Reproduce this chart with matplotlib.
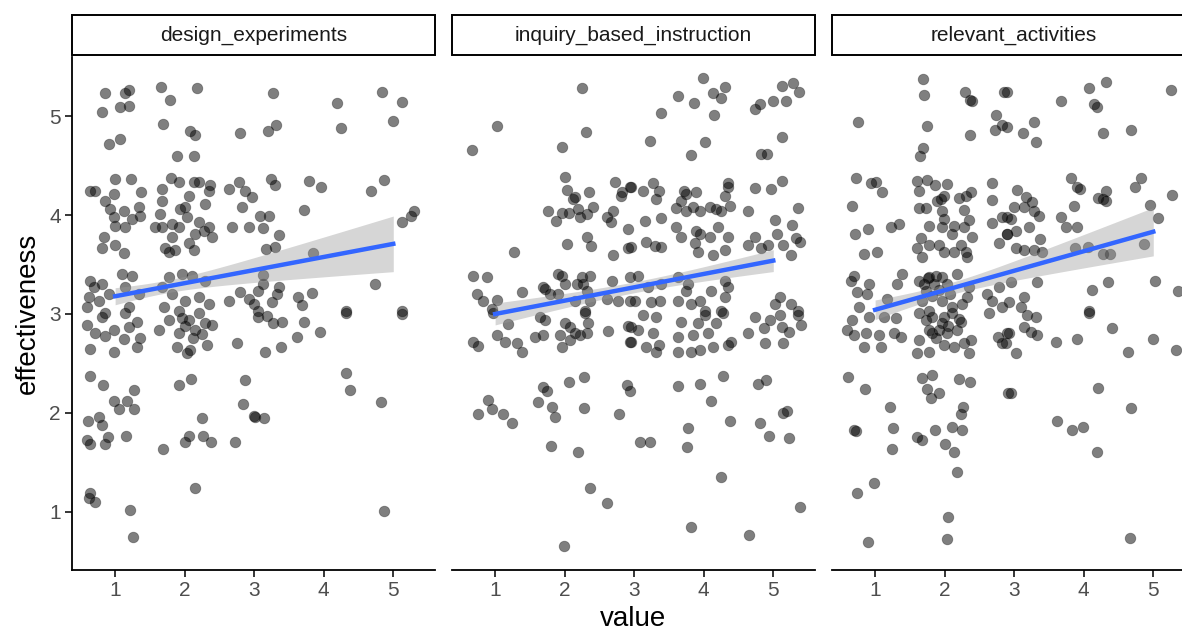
import numpy as np
import matplotlib
matplotlib.use("Agg")
import matplotlib.pyplot as plt
from matplotlib.patches import Rectangle

plt.rcParams['font.family'] = ['Liberation Sans', 'DejaVu Sans']

facets = ["design_experiments", "inquiry_based_instruction", "relevant_activities"]

# jittered points (value, effectiveness)
de_pts = [
    (0.86, 5.24), (1.14, 5.24), (1.20, 5.27), (0.81, 5.04), (1.07, 5.09), (1.20, 5.10), (1.66, 5.30),
    (1.79, 5.17), (2.18, 5.29), (1.69, 4.92), (2.08, 4.85), (2.15, 4.81), (2.80, 4.83), (1.07, 4.77),
    (0.91, 4.72), (1.89, 4.60), (2.14, 4.60), (1.00, 4.37), (1.23, 4.37), (0.64, 4.24), (0.71, 4.24),
    (0.86, 4.14), (0.99, 4.21), (1.37, 4.23), (1.81, 4.38), (1.92, 4.34), (2.14, 4.34), (2.21, 4.34),
    (2.37, 4.31), (1.68, 4.26), (2.06, 4.19), (2.35, 4.24), (2.29, 4.11), (2.64, 4.26), (2.78, 4.34),
    (2.87, 4.24), (2.97, 4.18), (0.93, 4.06), (1.13, 4.04), (1.35, 4.08), (1.36, 3.99), (0.99, 3.98),
    (1.24, 3.96), (1.00, 3.89), (1.14, 3.88), (1.68, 4.14), (1.65, 4.01), (1.68, 3.88), (1.58, 3.88),
    (1.82, 3.91), (1.94, 4.06), (2.01, 4.08), (2.04, 3.98), (1.92, 3.88), (2.21, 3.93), (2.28, 3.84),
    (2.15, 3.81), (2.35, 3.88), (2.40, 3.78), (2.68, 3.88), (2.83, 4.08), (2.93, 3.88), (0.84, 3.78),
    (0.81, 3.67), (1.00, 3.70), (1.13, 3.62), (1.72, 3.67), (1.78, 3.63), (1.86, 3.65), (2.06, 3.72),
    (2.14, 3.65), (1.82, 3.78), (0.64, 3.33), (0.70, 3.27), (0.81, 3.30), (0.91, 3.20), (0.63, 3.17),
    (0.77, 3.13), (0.60, 3.07), (1.10, 3.40), (1.24, 3.38), (1.14, 3.27), (1.35, 3.20), (1.20, 3.07),
    (1.78, 3.37), (1.96, 3.40), (2.11, 3.38), (2.29, 3.33), (1.68, 3.27), (1.82, 3.20), (2.01, 3.13),
    (2.21, 3.17), (2.35, 3.10), (1.71, 3.07), (1.92, 3.03), (2.64, 3.13), (2.80, 3.22), (2.93, 3.15),
    (3.27, 5.24), (4.19, 5.13), (4.84, 5.25), (5.13, 5.14), (5.00, 4.95), (3.20, 4.85), (3.32, 4.91),
    (4.25, 4.88), (3.24, 4.37), (3.30, 4.30), (3.79, 4.35), (3.96, 4.28), (4.86, 4.36), (4.68, 4.24),
    (3.71, 4.05), (3.09, 3.99), (3.22, 3.99), (3.12, 3.87), (3.36, 3.80), (3.17, 3.66), (3.30, 3.68),
    (3.85, 3.62), (5.13, 3.93), (5.26, 3.99), (5.30, 4.04), (3.12, 3.39), (3.13, 3.30), (3.06, 3.23),
    (3.36, 3.27), (3.33, 3.20), (3.83, 3.21), (3.63, 3.17), (3.69, 3.09), (3.26, 3.12), (2.99, 3.10),
    (3.06, 3.03), (4.73, 3.30), (4.32, 3.03), (5.13, 3.03),
    (0.60, 2.89), (0.71, 2.81), (0.64, 2.65), (0.86, 2.78), (0.99, 2.84), (0.99, 2.62), (1.13, 2.75),
    (1.20, 2.87), (1.32, 2.92), (1.32, 2.67), (1.36, 2.76), (1.14, 3.01), (0.81, 2.97), (0.86, 3.01),
    (1.63, 2.84), (1.78, 2.94), (1.92, 2.81), (1.89, 2.67), (2.04, 2.61), (2.06, 2.94), (2.15, 2.84),
    (2.21, 3.01), (2.29, 2.91), (2.32, 2.69), (2.40, 2.89), (2.08, 2.64), (2.75, 2.71), (2.00, 2.88),
    (2.12, 2.76), (1.96, 2.96), (2.25, 2.80), (0.64, 2.37), (0.83, 2.28), (1.27, 2.23), (0.99, 2.12),
    (1.17, 2.12), (1.06, 2.04), (1.27, 2.04), (0.61, 1.92), (0.77, 1.96), (0.81, 1.88), (0.90, 1.76),
    (0.60, 1.73), (0.64, 1.68), (0.86, 1.68), (1.16, 1.77), (1.92, 2.28), (2.09, 2.34), (2.25, 1.95),
    (2.06, 1.77), (2.01, 1.71), (2.27, 1.77), (2.38, 1.70), (1.69, 1.63), (2.73, 1.70), (2.87, 2.33),
    (2.84, 2.09), (3.00, 1.97), (0.64, 1.19), (0.71, 1.10), (0.63, 1.14), (1.22, 1.02), (1.26, 0.74),
    (2.15, 1.24), (4.32, 3.01), (5.13, 3.00), (3.06, 2.97), (3.19, 2.98), (3.27, 2.91), (3.40, 2.92),
    (3.71, 2.92), (3.62, 2.77), (3.95, 2.82), (3.16, 2.62), (3.39, 2.67), (4.32, 2.40), (4.38, 2.23),
    (4.83, 2.11), (3.01, 1.96), (3.14, 1.95), (4.87, 1.01),
]

ibi_pts = [
    (2.25, 5.29), (1.03, 4.90), (0.67, 4.66), (2.31, 4.84), (1.96, 4.69), (2.01, 4.39), (2.04, 4.25),
    (2.15, 4.18), (2.12, 4.16), (2.35, 4.23), (2.73, 4.34), (2.83, 4.23), (2.81, 4.19), (2.94, 4.28),
    (1.76, 4.04), (1.88, 3.94), (1.96, 4.02), (2.06, 4.02), (2.19, 4.06), (2.22, 3.98), (2.32, 4.01),
    (2.41, 4.08), (2.61, 3.98), (2.67, 3.93), (2.70, 4.04), (2.91, 3.86), (2.32, 3.78), (2.38, 3.69),
    (2.04, 3.71), (2.70, 3.60), (2.91, 3.67), (1.27, 3.63), (0.68, 3.38), (0.88, 3.37), (0.74, 3.20),
    (0.83, 3.13), (0.96, 3.05), (1.03, 3.14), (1.39, 3.22), (1.69, 3.27), (1.72, 3.25), (1.79, 3.20),
    (1.91, 3.20), (1.91, 3.40), (1.96, 3.38), (2.01, 3.30), (2.18, 3.30), (2.25, 3.37), (2.37, 3.38),
    (2.27, 3.30), (2.15, 3.13), (2.32, 3.23), (2.37, 3.13), (2.29, 3.03), (2.61, 3.15), (2.68, 3.33),
    (2.77, 3.13), (2.94, 3.37), (2.94, 3.13),
    (3.99, 5.39), (3.63, 5.21), (3.86, 5.13), (4.14, 5.24), (4.31, 5.30), (4.25, 5.19), (3.39, 5.03),
    (4.15, 5.01), (4.74, 5.07), (4.81, 5.12), (4.99, 5.15), (5.12, 5.31), (5.19, 5.15), (5.29, 5.34),
    (5.37, 5.25), (3.23, 4.75), (4.02, 4.74), (3.82, 4.61), (4.83, 4.62), (4.91, 4.62), (5.12, 4.79),
    (2.96, 4.28), (3.12, 4.24), (3.27, 4.33), (3.35, 4.24), (3.32, 4.16), (3.71, 4.24), (3.75, 4.21),
    (3.68, 4.14), (3.89, 4.23), (4.35, 4.33), (4.35, 4.28), (4.31, 4.19), (4.74, 4.27), (4.97, 4.26),
    (5.13, 4.35), (3.60, 4.07), (3.75, 4.04), (3.85, 4.08), (3.95, 4.04), (4.09, 4.08), (4.18, 4.06),
    (4.25, 4.04), (4.38, 4.09), (4.63, 4.04), (5.35, 4.07), (3.16, 3.94), (3.39, 3.97), (2.96, 3.68),
    (3.17, 3.73), (3.30, 3.69), (3.39, 3.68), (3.60, 3.88), (3.68, 3.78), (3.89, 3.84), (3.95, 3.81),
    (4.09, 3.78), (4.21, 3.88), (4.35, 3.78), (4.31, 3.65), (4.14, 3.60), (3.92, 3.63), (3.88, 3.72),
    (4.64, 3.70), (4.73, 3.78), (4.83, 3.67), (4.93, 3.70), (5.03, 3.95), (5.06, 3.81), (5.14, 3.70),
    (5.27, 3.90), (5.32, 3.77), (5.39, 3.73), (5.26, 3.60), (3.06, 3.38), (3.20, 3.27), (3.39, 3.30),
    (3.63, 3.37), (3.78, 3.30), (3.75, 3.23), (4.11, 3.23), (4.31, 3.33), (4.35, 3.27), (4.31, 3.17),
    (3.01, 3.13), (3.24, 3.12), (3.37, 3.13), (3.63, 3.13), (3.81, 3.10), (3.95, 3.13), (4.02, 3.03),
    (4.25, 3.03), (5.10, 3.17), (5.03, 3.10), (5.26, 3.10), (5.36, 3.03),
    (0.97, 3.01), (1.19, 2.90), (1.03, 2.79), (1.14, 2.72), (1.32, 2.71), (1.39, 2.62), (0.68, 2.72),
    (0.76, 2.68), (1.58, 2.77), (1.69, 2.79), (1.65, 2.97), (1.72, 2.94), (1.94, 2.79), (1.96, 2.67),
    (2.01, 2.91), (2.08, 2.87), (2.15, 2.81), (2.08, 2.74), (2.22, 2.79), (2.29, 3.01), (2.34, 2.91),
    (2.32, 2.81), (2.63, 2.83), (2.91, 2.88), (2.94, 2.72), (0.90, 2.13), (0.96, 2.04), (0.76, 1.99),
    (1.12, 1.99), (1.24, 1.90), (1.69, 2.26), (1.75, 2.22), (1.62, 2.11), (1.82, 2.06), (1.86, 1.96),
    (2.06, 2.31), (2.28, 2.36), (2.28, 2.05), (2.78, 1.99), (2.90, 2.28), (2.94, 2.22), (1.81, 1.66),
    (2.19, 1.60), (2.37, 1.24), (2.61, 1.09), (1.99, 0.65),
    (3.13, 2.99), (3.32, 2.97), (2.96, 2.87), (3.06, 2.84), (2.96, 2.72), (3.17, 2.67), (3.35, 2.69),
    (3.32, 2.62), (3.27, 2.81), (3.68, 2.92), (3.63, 2.77), (3.63, 2.62), (3.85, 2.79), (3.82, 2.62),
    (3.95, 2.64), (3.92, 2.91), (4.02, 2.99), (4.06, 2.81), (4.14, 2.67), (4.18, 2.91), (4.28, 3.01),
    (4.35, 2.69), (4.39, 2.72), (4.64, 2.81), (4.74, 2.97), (4.86, 2.86), (4.88, 2.71), (4.96, 2.94),
    (5.10, 2.99), (5.12, 2.87), (5.14, 2.71), (5.22, 2.82), (5.36, 2.99), (5.40, 2.89), (3.63, 2.27),
    (3.94, 2.29), (4.28, 2.37), (4.11, 2.12), (4.78, 2.29), (4.90, 2.33), (3.78, 1.85), (3.76, 1.65),
    (4.38, 1.92), (4.81, 1.90), (5.14, 2.00), (5.20, 2.02), (4.94, 1.77), (5.22, 1.75), (3.09, 1.71),
    (3.23, 1.70), (4.25, 1.35), (5.39, 1.05), (3.81, 0.84), (4.65, 0.76),
]

ra_pts = [
    (1.69, 5.38), (1.71, 5.22), (2.29, 5.25), (2.37, 5.17), (2.40, 5.15), (2.86, 5.25), (0.76, 4.94),
    (1.75, 4.90), (2.37, 4.81), (2.74, 5.01), (2.83, 4.91), (2.73, 4.86), (1.69, 4.68), (1.65, 4.60),
    (0.73, 4.38), (0.94, 4.33), (1.01, 4.34), (1.10, 4.23), (0.67, 4.09), (0.71, 3.81), (0.90, 3.86),
    (1.23, 3.88), (1.35, 3.91), (0.84, 3.61), (1.03, 3.63), (1.60, 4.35), (1.75, 4.36), (1.86, 4.30),
    (1.63, 4.24), (2.04, 4.32), (1.95, 4.16), (1.99, 4.19), (1.89, 4.14), (2.21, 4.17), (2.31, 4.19),
    (2.38, 4.23), (1.63, 4.07), (1.73, 4.07), (1.96, 4.04), (1.99, 3.96), (2.28, 4.05), (2.35, 3.95),
    (1.78, 3.89), (1.96, 3.88), (2.14, 3.89), (2.11, 3.81), (2.28, 3.88), (2.40, 3.78), (1.66, 3.77),
    (1.60, 3.67), (1.78, 3.70), (1.92, 3.70), (1.99, 3.63), (2.14, 3.63), (2.24, 3.70), (2.31, 3.63),
    (2.32, 3.58), (1.68, 3.58), (2.68, 4.33), (2.68, 4.15), (2.68, 3.92), (2.83, 3.98), (2.78, 3.72),
    (2.90, 3.81), (0.70, 3.38), (0.65, 3.33), (0.74, 3.22), (0.91, 3.30), (0.88, 3.20), (0.77, 3.07),
    (1.17, 3.15), (1.32, 3.30), (1.39, 3.40), (1.63, 3.33), (1.71, 3.30), (1.78, 3.37), (1.88, 3.38),
    (1.96, 3.37), (2.04, 3.30), (1.73, 3.23), (1.82, 3.18), (1.68, 3.13), (1.96, 3.13), (2.11, 3.07),
    (2.25, 3.10), (2.18, 3.40), (2.35, 3.27), (2.32, 3.17), (1.78, 3.03), (1.85, 3.30), (1.92, 3.24),
    (2.08, 3.20), (1.76, 3.36), (2.61, 3.20), (2.78, 3.27), (2.83, 3.07), (2.68, 3.13),
    (4.32, 5.35), (4.08, 5.29), (4.15, 5.12), (4.19, 5.09), (5.26, 5.27), (3.68, 5.15), (2.90, 5.25),
    (2.90, 4.89), (3.13, 4.83), (3.29, 4.94), (3.32, 4.74), (4.27, 4.83), (4.68, 4.86), (3.82, 4.38),
    (3.91, 4.28), (3.94, 4.26), (4.83, 4.38), (4.73, 4.28), (4.27, 4.16), (4.32, 4.14), (4.32, 4.24),
    (4.21, 4.17), (5.27, 4.20), (4.96, 4.10), (5.07, 3.97), (3.04, 4.25), (3.17, 4.18), (3.26, 4.13),
    (3.29, 4.04), (2.99, 4.08), (3.14, 4.08), (2.90, 3.98), (2.96, 3.96), (3.36, 3.99), (3.22, 3.88),
    (3.03, 3.84), (2.90, 3.81), (3.37, 3.76), (3.03, 3.67), (3.14, 3.65), (3.29, 3.65), (3.40, 3.63),
    (3.68, 3.98), (3.75, 3.88), (3.91, 3.88), (3.86, 4.09), (3.88, 3.67), (4.06, 3.68), (4.27, 3.61),
    (4.38, 3.61), (4.87, 3.71), (3.33, 3.32), (2.96, 3.32), (4.12, 3.24), (4.35, 3.32), (5.03, 3.33),
    (5.35, 3.23), (3.14, 3.17), (3.10, 3.07), (2.93, 3.12), (4.08, 3.03),
    (0.67, 2.94), (0.60, 2.84), (0.70, 2.79), (0.87, 2.81), (0.84, 2.67), (1.09, 2.67), (1.06, 2.79),
    (0.91, 2.97), (1.13, 2.97), (1.30, 2.96), (1.27, 2.81), (1.37, 2.77), (1.63, 3.01), (1.73, 2.94),
    (1.82, 2.97), (1.99, 2.97), (2.11, 3.01), (2.24, 2.92), (1.78, 2.84), (1.92, 2.84), (2.04, 2.81),
    (2.18, 2.84), (1.63, 2.74), (1.60, 2.61), (1.78, 2.62), (1.99, 2.69), (2.14, 2.67), (2.28, 2.71),
    (2.38, 2.74), (2.35, 2.61), (1.96, 2.91), (1.82, 2.81), (2.05, 2.88), (1.88, 2.76), (2.20, 2.95),
    (2.64, 3.01), (2.76, 2.77), (2.83, 2.71), (2.93, 2.81), (0.61, 2.36), (0.86, 2.24), (1.22, 2.06),
    (0.73, 1.82), (0.70, 1.83), (1.26, 1.85), (1.24, 1.63), (0.74, 1.19), (0.99, 1.29), (0.90, 0.69),
    (1.68, 2.35), (1.82, 2.38), (1.75, 2.24), (1.81, 2.15), (1.92, 2.20), (2.21, 2.34), (2.37, 2.31),
    (2.27, 2.06), (2.24, 1.99), (2.25, 1.83), (2.11, 1.86), (1.60, 1.76), (1.68, 1.73), (1.86, 1.83),
    (2.01, 1.68), (2.13, 1.60), (2.18, 1.40), (2.05, 0.95), (2.04, 0.72), (2.91, 2.20),
    (3.60, 2.72), (3.91, 2.75), (4.40, 2.86), (4.08, 3.01), (4.99, 2.75), (4.64, 2.62), (5.33, 2.64),
    (3.14, 2.87), (3.24, 2.82), (3.33, 2.79), (3.32, 2.97), (3.19, 2.99), (2.90, 2.81), (2.88, 2.71),
    (3.03, 2.61), (2.96, 2.20), (4.21, 2.25), (4.68, 2.05), (3.62, 1.92), (3.83, 1.83), (3.99, 1.86),
    (4.19, 1.60), (4.67, 0.73),
]

# linear fit: intercept, slope, and CI shape (xbar, min half-width, growth)
fit_intercept = [3.047, 2.865, 2.845]
fit_slope = [0.1325, 0.135, 0.1975]
ci_xbar = [1.7, 3.0, 2.0]
ci_h0 = [0.064, 0.055, 0.06]
ci_k = [0.083, 0.048, 0.079]

all_pts = [de_pts, ibi_pts, ra_pts]

W, H = 1182, 634
fig = plt.figure(figsize=(W / 100, H / 100), dpi=100)

panel_left = [72, 452, 832]
panel_w = 363
ax_top, ax_bot = 57, 570
strip_top, strip_bot = 15, 55

for i, name in enumerate(facets):
    ax = fig.add_axes([panel_left[i] / W, (H - ax_bot) / H, panel_w / W, (ax_bot - ax_top) / H])
    pts = np.array(all_pts[i])
    ax.scatter(pts[:, 0], pts[:, 1], s=58, facecolor=(0, 0, 0, 0.5), edgecolor=(0, 0, 0, 0.35),
               linewidths=0.6, zorder=2)

    xs = np.linspace(1, 5, 100)
    yfit = fit_intercept[i] + fit_slope[i] * xs
    half = np.sqrt(ci_h0[i] ** 2 + (ci_k[i] * (xs - ci_xbar[i])) ** 2)
    ax.fill_between(xs, yfit - half, yfit + half, color='#999999', alpha=0.4, lw=0, zorder=3)
    ax.plot(xs, yfit, color='#3366FF', lw=3.2, zorder=4)

    ax.set_xlim(0.38, 5.6)
    ax.set_ylim(0.41, 5.6)
    ax.set_xticks([1, 2, 3, 4, 5])
    ax.set_yticks([1, 2, 3, 4, 5])
    for s in ['top', 'right']:
        ax.spines[s].set_visible(False)
    ax.spines['bottom'].set_linewidth(1.3)
    ax.spines['left'].set_linewidth(1.3)
    ax.tick_params(axis='both', length=5, width=1.1, labelsize=15, labelcolor='#4D4D4D', pad=3)
    if i > 0:
        ax.spines['left'].set_visible(False)
        ax.tick_params(axis='y', left=False, labelleft=False)
    else:
        ax.set_ylabel("effectiveness", fontsize=20, labelpad=6)
    if i == 1:
        ax.set_xlabel("value", fontsize=20, labelpad=4)

    # strip
    rect = Rectangle((panel_left[i] / W, (H - strip_bot) / H), panel_w / W, (strip_bot - strip_top) / H,
                     transform=fig.transFigure, facecolor='white', edgecolor='black', lw=1.4, clip_on=False)
    fig.add_artist(rect)
    fig.text((panel_left[i] + panel_w / 2) / W, (H - (strip_top + strip_bot) / 2) / H, name,
             ha='center', va='center', fontsize=15, color='#1A1A1A')

fig.savefig("out.png", dpi=100)
